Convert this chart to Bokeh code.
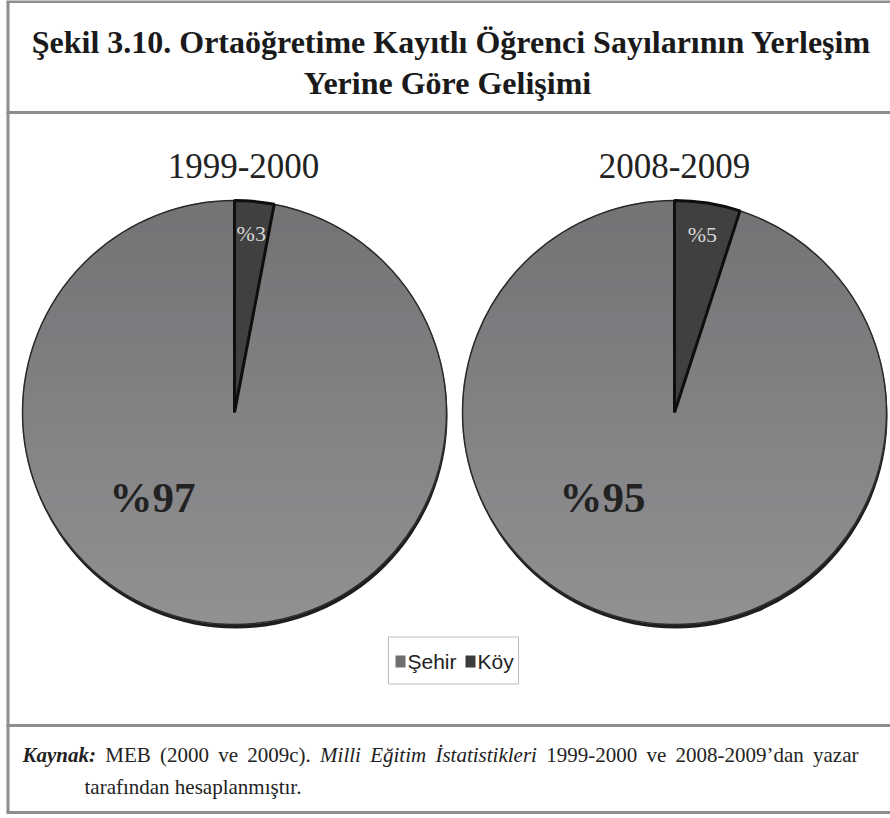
import numpy as np
from bokeh.plotting import figure
from bokeh.models import Range1d, ColumnDataSource
from bokeh.core.properties import value
from bokeh.embed import file_html
from bokeh.resources import INLINE

# ---------------- data ----------------
periods = ["1999-2000", "2008-2009"]
categories = ["Şehir", "Köy"]
sehir_pct = [97, 95]
koy_pct = [3, 5]
sehir_labels = ["%97", "%95"]
koy_labels = ["%3", "%5"]
title_lines = ["Şekil 3.10. Ortaöğretime Kayıtlı Öğrenci Sayılarının Yerleşim",
               "Yerine Göre Gelişimi"]
source_words = ["Kaynak:", "MEB", "(2000", "ve", "2009c).", "Milli", "Eğitim",
                "İstatistikleri", "1999-2000", "ve", "2008-2009’dan", "yazar"]
source_styles = ["bold italic", "normal", "normal", "normal", "normal", "italic",
                 "italic", "italic", "normal", "normal", "normal", "normal"]
source_line2 = "tarafından hesaplanmıştır."

# ---------------- layout ----------------
W, H = 890, 818
def Y(ry):
    return H - ry

p = figure(width=W, height=H, output_backend="svg", toolbar_location=None,
           x_range=Range1d(0, W), y_range=Range1d(0, H),
           x_axis_type=None, y_axis_type=None, min_border=0,
           outline_line_color=None, background_fill_color="white",
           border_fill_color="white")
p.grid.visible = False

# frame lines
frame_col = "#8e8e8e"
p.segment(x0=[7.5], y0=[Y(1)], x1=[7.5], y1=[Y(812)],
          line_color=frame_col, line_width=3)
p.segment(x0=[6, 6, 6, 6], y0=[Y(1), Y(112), Y(725), Y(812)],
          x1=[890, 890, 890, 890], y1=[Y(1), Y(112), Y(725), Y(812)],
          line_color=frame_col, line_width=3)

# title
serif = value("Liberation Serif")
p.text(x=[451, 447], y=[Y(41), Y(82)], text=title_lines,
       text_font=serif, text_font_style="bold", text_font_size="32px",
       text_align="center", text_baseline="middle", text_color="#1a1a1a")

# pies
cx = np.array([234.0, 674.0])
cy = np.array([Y(412), Y(412)])
R = 212.0
koy_frac = np.array(koy_pct) / 100.0
top = np.pi / 2
koy_start = top - 2 * np.pi * koy_frac
koy_end = np.full(2, top)

# 3D-ish dark rim
p.circle(x=cx + 1, y=cy - 4, radius=R, fill_color="#1e1e1e", line_color=None)

# Şehir body with vertical gradient (bands inside the circle)
N = 40
c_top = np.array([0x74, 0x74, 0x77])
c_bot = np.array([0x91, 0x91, 0x93])
band_xs, band_ys, band_cols = [], [], []
for i in range(2):
    for k in range(N):
        y0 = cy[i] + R - 2 * R * k / N
        y1 = cy[i] + R - 2 * R * (k + 1) / N
        yy = np.linspace(y0, y1, 8)
        dx = np.sqrt(np.clip(R ** 2 - (yy - cy[i]) ** 2, 0, None))
        band_xs.append(list(cx[i] + dx) + list(cx[i] - dx[::-1]))
        band_ys.append(list(yy) + list(yy[::-1]))
        c = (c_top + (c_bot - c_top) * k / (N - 1)).astype(int)
        band_cols.append("#%02x%02x%02x" % tuple(c))
p.patches(xs=band_xs, ys=band_ys, fill_color=band_cols, line_color=band_cols,
          line_width=1)
p.circle(x=cx, y=cy, radius=R, fill_color=None, line_color="#2a2a2a", line_width=1.5)

src_k = ColumnDataSource(dict(x=cx, y=cy, s=koy_start, e=koy_end))
p.wedge(x="x", y="y", radius=R, start_angle="s", end_angle="e", source=src_k,
        fill_color="#404040", line_color="#0e0e0e", line_width=3)

# pie titles
p.text(x=[243, 674], y=[Y(165), Y(165)], text=periods, text_font=serif,
       text_font_size="35px", text_align="center", text_baseline="middle",
       text_color="#222222")

# Köy labels at slice mid-angle
mid = top - np.pi * koy_frac
lr = 0.84 * R
p.text(x=cx + lr * np.cos(mid), y=cy + lr * np.sin(mid) + 2, text=koy_labels,
       text_font=serif, text_font_size="22px", text_align="center",
       text_baseline="middle", text_color="#d6d6d6")

# Şehir labels
p.text(x=cx + np.array([-82, -72]), y=cy - 85, text=sehir_labels,
       text_font=serif, text_font_style="bold", text_font_size="43px",
       text_align="center", text_baseline="middle", text_color="#222222")

# legend
p.rect(x=[453], y=[Y(660)], width=130, height=47, fill_color="white",
       line_color="#bdbdbd", line_width=1)
p.rect(x=[400, 470], y=[Y(661), Y(661)], width=10, height=12,
       fill_color=["#6f6f71", "#3c3c3c"], line_color=None)
p.text(x=[407, 477], y=[Y(661), Y(661)], text=categories,
       text_font=value("Liberation Sans"), text_font_size="21px",
       text_align="left", text_baseline="middle", text_color="#222222")

# source note: justified first line (Times-compatible advance widths)
reg = {' ': 250, '(': 333, ')': 333, '.': 250, '-': 333, '’': 333, ':': 278,
       'M': 889, 'E': 611, 'B': 667, 'a': 444, 'c': 444, 'd': 500, 'e': 444,
       'f': 333, 'h': 500, 'i': 278, 'k': 500, 'l': 278, 'm': 778, 'n': 500,
       'p': 500, 'r': 333, 's': 389, 't': 278, 'u': 500, 'v': 500, 'y': 500,
       'z': 444, 'ı': 278, 'ş': 389, 'ğ': 500}
ita = {'M': 833, 'i': 278, 'l': 278, 'E': 611, 'ğ': 500, 't': 278, 'm': 722,
       'İ': 333, 's': 389, 'a': 500, 'k': 444, 'e': 444, 'r': 389}
bit = {'K': 667, 'a': 500, 'y': 444, 'n': 556, 'k': 500, ':': 333}
tables = {"normal": reg, "italic": ita, "bold italic": bit}
FS = 21
def wwidth(w, st):
    t = tables[st]
    return sum(t.get(ch, 500) for ch in w) * FS / 1000.0

x_left, x_right = 22, 858
widths = [wwidth(w, s) for w, s in zip(source_words, source_styles)]
gap = (x_right - x_left - sum(widths)) / (len(source_words) - 1)
xpos = x_left + np.concatenate([[0], np.cumsum(np.array(widths[:-1]) + gap)])
for w, st, x in zip(source_words, source_styles, xpos):
    p.text(x=[x], y=[Y(754)], text=[w], text_font=serif, text_font_style=st,
           text_font_size=f"{FS}px", text_align="left", text_baseline="middle",
           text_color="#222222")
p.text(x=[84], y=[Y(786)], text=[source_line2], text_font=serif,
       text_font_size=f"{FS}px", text_align="left", text_baseline="middle",
       text_color="#222222")

open("out.html", "w").write(file_html(p, INLINE))
